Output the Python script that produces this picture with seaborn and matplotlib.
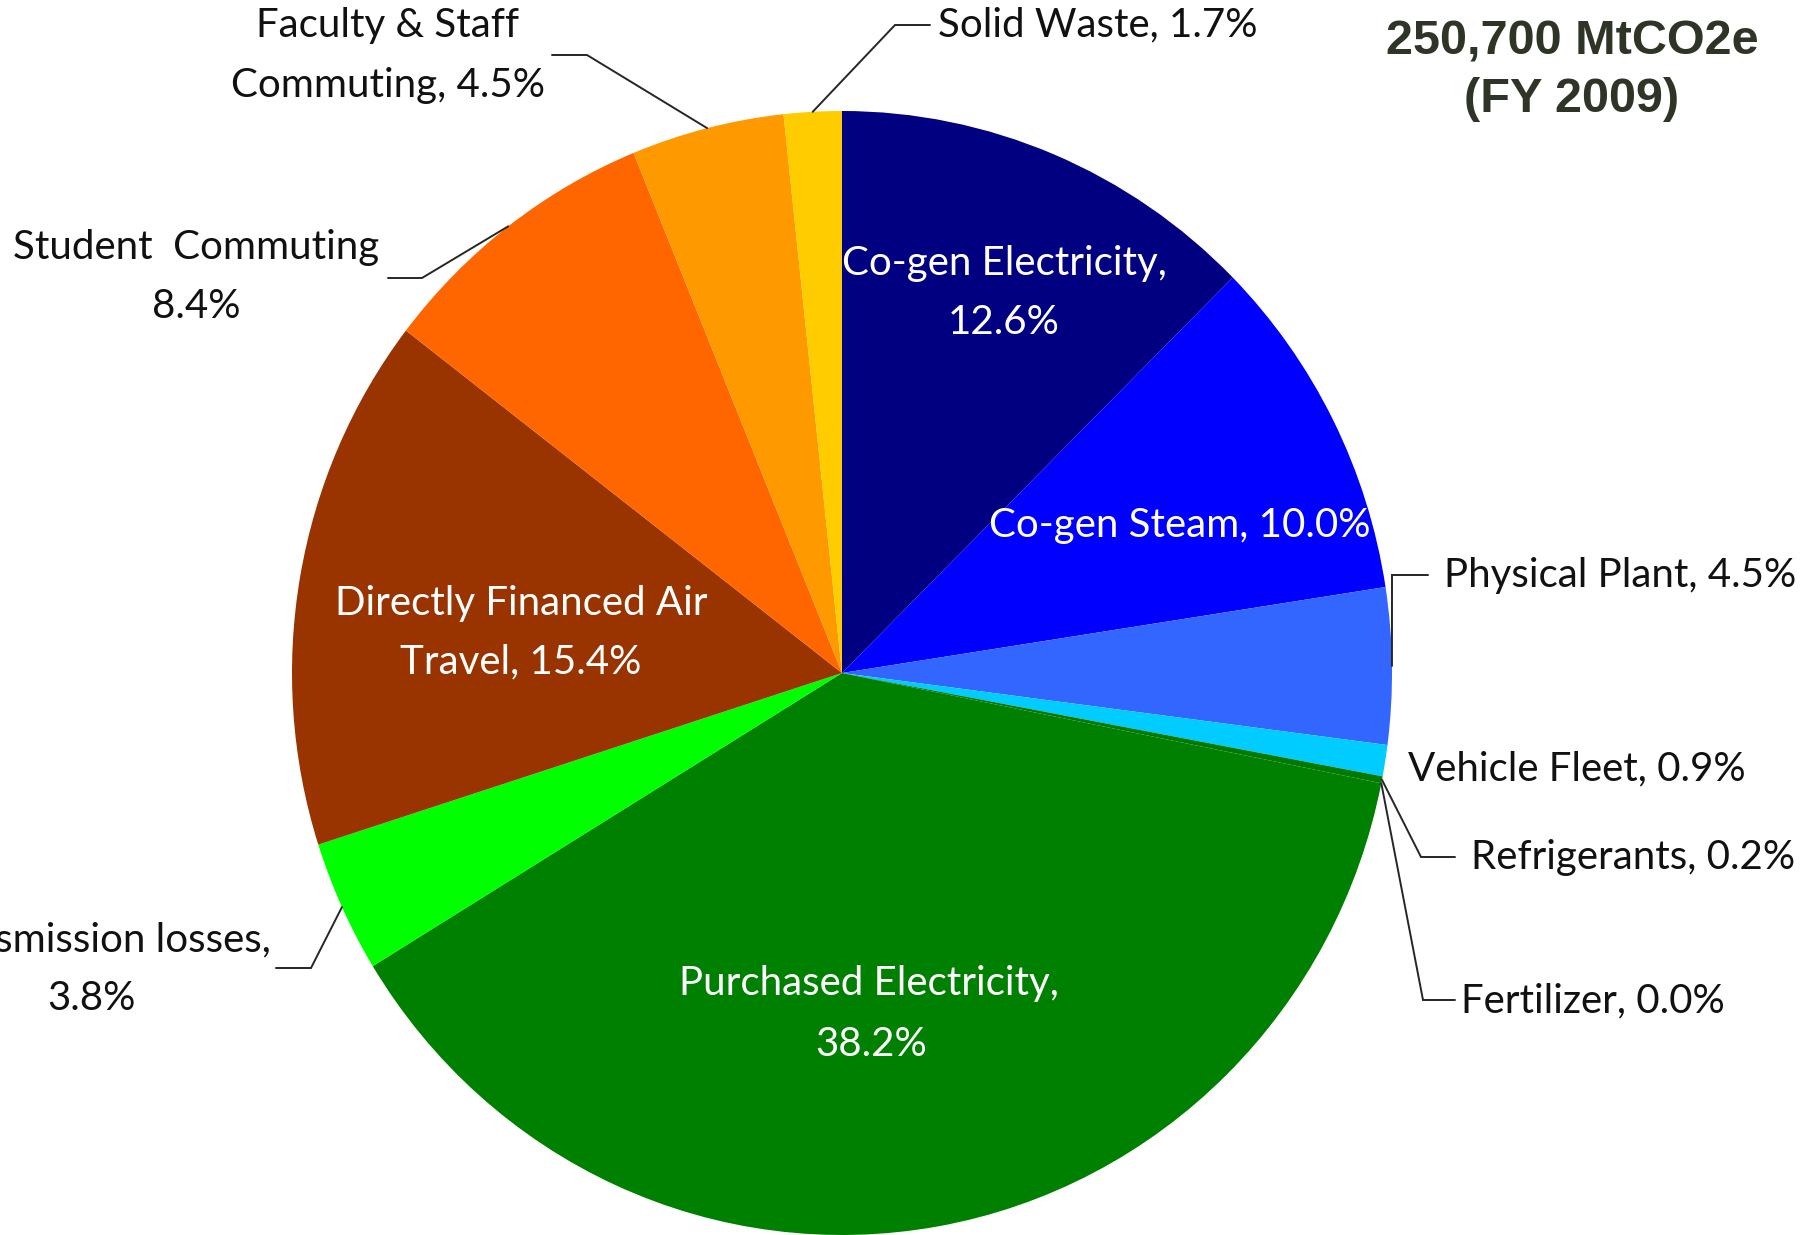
import matplotlib
matplotlib.use("Agg")
import matplotlib.pyplot as plt
from matplotlib import font_manager
import seaborn as sns
import numpy as np

# ---------------- data ----------------
categories = ["Co-gen Electricity", "Co-gen Steam", "Physical Plant", "Vehicle Fleet",
              "Refrigerants", "Fertilizer", "Purchased Electricity", "Transmission losses",
              "Directly Financed Air Travel", "Student  Commuting",
              "Faculty & Staff Commuting", "Solid Waste"]
shares = [12.6, 10.0, 4.5, 0.9, 0.2, 0.0, 38.2, 3.8, 15.4, 8.4, 4.5, 1.7]
slice_colors = ["#000080", "#0000FF", "#3366FF", "#00CCFF", "#007A00", "#007A00",
                "#008000", "#00FF00", "#993300", "#FF6600", "#FF9900", "#FFCC00"]
total_label = ["250,700 MtCO2e", "(FY 2009)"]

def pct(v):
    return f"{v:.1f}%"

label_lines = [
    [f"{categories[0]},", pct(shares[0])],
    [f"{categories[1]}, {pct(shares[1])}"],
    [f"{categories[2]}, {pct(shares[2])}"],
    [f"{categories[3]}, {pct(shares[3])}"],
    [f"{categories[4]}, {pct(shares[4])}"],
    [f"{categories[5]}, {pct(shares[5])}"],
    [f"{categories[6]},", pct(shares[6])],
    [f"{categories[7]},", pct(shares[7])],
    ["Directly Financed Air", f"Travel, {pct(shares[8])}"],
    [categories[9], pct(shares[9])],
    ["Faculty & Staff", f"Commuting, {pct(shares[10])}"],
    [f"{categories[11]}, {pct(shares[11])}"],
]

# ---------------- layout (pixels, top-left origin) ----------------
W, H = 1804, 1235
CX, CY, RX, RY = 842, 673, 550, 562

def d(x, y):
    return (x - CX) / RX, (CY - y) / RY

layout = [
    dict(pos=[(1004, 263), (1004, 322)], ha="center", color="white", lead=None),
    dict(pos=[(1180, 525)], ha="center", color="white", lead=None),
    dict(pos=[(1444, 575)], ha="left", color="#111111", lead=[(1392, 575), (1428, 575)]),
    dict(pos=[(1408, 769)], ha="left", color="#111111", lead=None),
    dict(pos=[(1471, 858)], ha="left", color="#111111", lead=[(1421, 857), (1455, 857)]),
    dict(pos=[(1461, 1001)], ha="left", color="#111111", lead=[(1423, 1000), (1455, 1000)]),
    dict(pos=[(869, 984), (871, 1044)], ha="center", color="white", lead=None),
    dict(pos=[(92, 940), (92, 998)], ha="center", color="#111111", lead=[(311, 968), (276, 968)]),
    dict(pos=[(521, 603), (521, 662)], ha="center", color="white", lead=None),
    dict(pos=[(196, 248), (196, 307)], ha="center", color="#111111", lead=[(422, 278), (388, 278)]),
    dict(pos=[(388, 26), (388, 86)], ha="center", color="#111111", lead=[(587, 55), (552, 55)]),
    dict(pos=[(938, 25)], ha="left", color="#111111", lead=[(895, 25), (930, 25)]),
]

sns.set_theme(style="white")
plt.rcParams["font.family"] = ["Lato", "DejaVu Sans"]

fig = plt.figure(figsize=(W / 100, H / 100), dpi=100)
ax = fig.add_axes([0, 0, 1, 1])

wedges, _ = ax.pie(shares, colors=slice_colors, startangle=90, counterclock=False,
                   radius=1.0, wedgeprops=dict(linewidth=0))

ax.set_aspect("auto")
ax.set_xlim(-CX / RX, (W - CX) / RX)
ax.set_ylim(-(H - CY) / RY, CY / RY)
ax.axis("off")

label_size = 29
for w, lines, lay in zip(wedges, label_lines, layout):
    for txt, (x, y) in zip(lines, lay["pos"]):
        xd, yd = d(x, y)
        ax.text(xd, yd, txt, ha=lay["ha"], va="center", fontsize=label_size,
                color=lay["color"], family=["Lato", "DejaVu Sans"])
    if lay["lead"] is not None:
        mid = np.deg2rad((w.theta1 + w.theta2) / 2)
        xs = [np.cos(mid)] + [d(*p)[0] for p in lay["lead"]]
        ys = [np.sin(mid)] + [d(*p)[1] for p in lay["lead"]]
        ax.plot(xs, ys, color="#262626", lw=1.4, solid_joinstyle="miter")

names = {f.name for f in font_manager.fontManager.ttflist}
if "Liberation Sans Narrow" in names:
    tfam, tsize = ["Liberation Sans Narrow", "DejaVu Sans"], 42
else:
    tfam, tsize = ["Liberation Sans", "DejaVu Sans"], 35
for txt, (x, y) in zip(total_label, [(1572, 42), (1572, 100)]):
    xd, yd = d(x, y)
    ax.text(xd, yd, txt, ha="center", va="center", fontsize=tsize, fontweight="bold",
            color="#2E3526", family=tfam)

fig.savefig("out.png", dpi=100)
